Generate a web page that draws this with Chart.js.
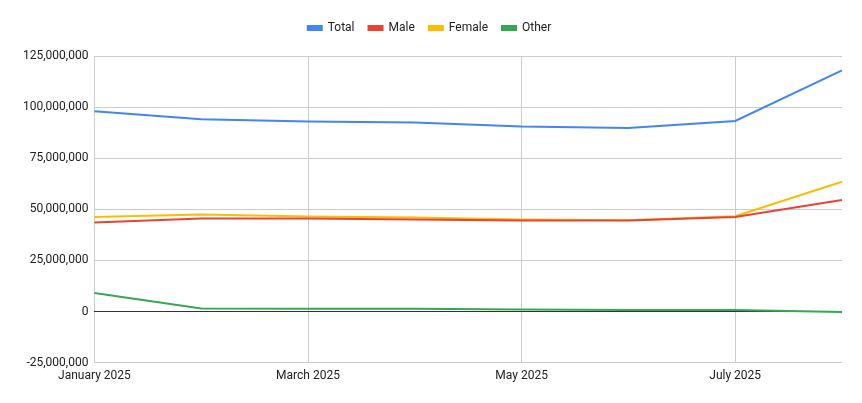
<!DOCTYPE html>
<html>
<head>
<meta charset="utf-8">
<script src="https://cdn.jsdelivr.net/npm/chart.js@4"></script>
<style>
  body { margin: 0; background: #fff; }
  #wrap { width: 862px; height: 403px; }
</style>
</head>
<body>
<div id="wrap"><canvas id="chart"></canvas></div>
<script>
// data
const months = ['January 2025', 'February 2025', 'March 2025', 'April 2025',
    'May 2025', 'June 2025', 'July 2025', 'August 2025'];
const total = [98000000, 94000000, 93000000, 92500000, 90500000, 89800000, 93200000, 118000000];
const male = [43500000, 45500000, 45500000, 45000000, 44500000, 44500000, 46200000, 54500000];
const female = [46200000, 47500000, 46500000, 46000000, 45000000, 44600000, 46600000, 63500000];
const other = [9000000, 1500000, 1300000, 1300000, 1000000, 700000, 700000, -300000];

function line(label, data, color) {
    return {
        label: label,
        data: data,
        borderColor: color,
        backgroundColor: color,
        borderWidth: 2,
        pointRadius: 0,
        tension: 0
    };
}

// extra space under the legend
const legendGap = {
    id: 'legendGap',
    beforeInit(chart) {
        const fit = chart.legend.fit;
        chart.legend.fit = function () {
            fit.bind(chart.legend)();
            this.height += 12;
        };
    }
};

const ctx = document.getElementById('chart').getContext('2d');
new Chart(ctx, {
    type: 'line',
    data: {
        labels: months,
        datasets: [
            line('Total', total, '#4285f4'),
            line('Male', male, '#ea4335'),
            line('Female', female, '#fbbc04'),
            line('Other', other, '#34a853')
        ]
    },
    plugins: [legendGap],
    options: {
        responsive: true,
        maintainAspectRatio: false,
        animation: false,
        layout: { padding: { top: 8, left: 17, right: 20, bottom: 14 } },
        plugins: {
            legend: {
                position: 'top',
                labels: {
                    boxWidth: 14,
                    boxHeight: 4,
                    padding: 14,
                    color: '#222',
                    font: { family: 'Roboto', size: 12 }
                }
            },
            tooltip: { enabled: false }
        },
        scales: {
            x: {
                offset: false,
                grid: {
                    color: c => (c.tick && c.tick.value % 2 === 0 ? '#cccccc' : 'rgba(0,0,0,0)'),
                    drawTicks: false
                },
                border: { display: false },
                ticks: {
                    autoSkip: false,
                    maxRotation: 0,
                    padding: 6,
                    color: '#222',
                    font: { family: 'Roboto', size: 12 },
                    callback: function (v, i) { return i % 2 === 0 ? this.getLabelForValue(v) : ''; }
                }
            },
            y: {
                min: -25000000,
                max: 125000000,
                ticks: {
                    stepSize: 25000000,
                    padding: 6,
                    color: '#222',
                    font: { family: 'Roboto', size: 12 },
                    callback: v => v.toLocaleString('en-US')
                },
                grid: {
                    color: c => (c.tick.value === 0 ? '#333333' : '#cccccc'),
                    drawTicks: false
                },
                border: { display: false }
            }
        }
    }
});
</script>
</body>
</html>
